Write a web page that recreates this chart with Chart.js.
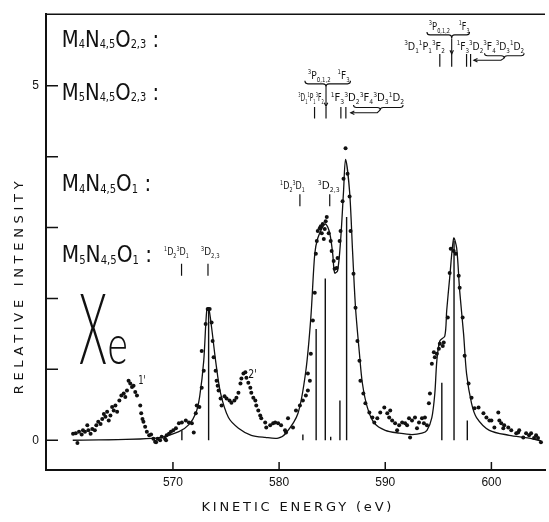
<!DOCTYPE html>
<html>
<head>
<meta charset="utf-8">
<script src="https://cdn.jsdelivr.net/npm/chart.js@4/dist/chart.umd.min.js"></script>
<style>
  html, body { margin: 0; padding: 0; background: #fff; }
  canvas { display: block; }
</style>
</head>
<body>
<canvas id="xeChart" width="549" height="522"></canvas>
<script>
// axis ticks
const xTicks = [570, 580, 590, 600];
const yTicks = [0, 1, 2, 3, 4, 5];
const yTickLabels = ['0', '', '', '', '', '5'];

// measured spectrum (dots), kinetic energy in eV
const pointEnergy = [
  560.59, 561.00, 560.84, 561.15, 561.40, 561.52, 561.71, 561.93, 562.03, 562.24,
  562.40, 562.64, 562.78, 562.96, 563.18, 563.34, 563.49, 563.64, 563.80, 563.95,
  564.11, 564.27, 564.42, 564.58, 564.74, 564.95, 565.14, 565.36, 565.51, 565.67,
  565.82, 565.98, 566.14, 566.29, 566.45, 566.61, 566.92, 567.01, 567.13, 567.22,
  567.38, 567.54, 567.76, 567.94, 568.16, 568.32, 568.41, 568.57, 568.79, 568.94,
  569.25, 569.35, 569.41, 569.63, 569.81, 570.03, 570.28, 570.56, 570.84, 571.21,
  571.50, 571.78, 571.96, 572.15, 572.24, 572.49, 572.71, 572.71, 572.90, 573.08,
  573.27, 573.46, 573.64, 573.74, 573.83, 574.02, 574.11, 574.21, 574.30, 574.49,
  574.58, 574.86, 575.05, 575.33, 575.51, 575.79, 575.98, 576.17, 576.36, 576.45,
  576.64, 576.82, 576.92, 577.10, 577.29, 577.38, 577.57, 577.76, 577.85, 578.04,
  578.22, 578.32, 578.69, 578.79, 579.16, 579.44, 579.63, 579.91, 580.19, 580.56,
  580.65, 580.84, 581.31, 581.59, 581.96, 582.24, 582.52, 582.71, 582.71, 582.90,
  582.99, 583.18, 583.36, 583.46, 583.55, 583.64, 583.83, 583.93, 584.02, 584.11,
  584.21, 584.30, 584.39, 584.49, 584.67, 584.86, 584.95, 585.14, 585.23, 585.42,
  585.51, 585.70, 585.79, 585.98, 586.07, 586.26, 586.45, 586.64, 586.73, 587.01,
  587.20, 587.38, 587.57, 587.66, 587.94, 588.13, 588.50, 588.79, 588.97, 589.25,
  589.53, 589.91, 590.19, 590.37, 590.47, 590.65, 590.93, 591.12, 591.31, 591.59,
  591.87, 592.06, 592.24, 592.34, 592.52, 592.80, 592.99, 593.18, 593.46, 593.64,
  593.74, 593.93, 594.11, 594.21, 594.39, 594.58, 594.67, 594.86, 595.05, 595.14,
  595.42, 595.51, 595.89, 596.07, 596.17, 596.45, 596.64, 596.92, 597.01, 597.29,
  597.48, 597.85, 598.13, 598.41, 598.79, 599.25, 599.53, 599.81, 600.00, 600.28,
  600.65, 600.75, 600.93, 601.12, 601.21, 601.59, 601.87, 602.34, 602.52, 602.62,
  603.00, 603.27, 603.55, 603.74, 604.02, 604.21, 604.39, 604.67
];
const pointIntensity = [
  0.09, -0.04, 0.10, 0.12, 0.08, 0.14, 0.12, 0.21, 0.14, 0.09,
  0.16, 0.14, 0.21, 0.26, 0.23, 0.30, 0.37, 0.33, 0.40, 0.28,
  0.35, 0.47, 0.42, 0.49, 0.40, 0.56, 0.63, 0.66, 0.61, 0.70,
  0.84, 0.80, 0.75, 0.77, 0.68, 0.63, 0.49, 0.38, 0.30, 0.26,
  0.19, 0.12, 0.07, 0.08, 0.02, -0.02, -0.03, 0.02, 0.00, 0.05,
  0.02, 0.00, 0.07, 0.09, 0.12, 0.14, 0.17, 0.24, 0.25, 0.28,
  0.25, 0.24, 0.11, 0.38, 0.49, 0.47, 0.74, 1.26, 0.98, 1.64,
  1.85, 1.85, 1.66, 1.40, 1.17, 0.98, 0.84, 0.77, 0.70, 0.59,
  0.49, 0.62, 0.59, 0.56, 0.53, 0.56, 0.60, 0.67, 0.80, 0.87,
  0.94, 0.96, 0.88, 0.81, 0.74, 0.67, 0.60, 0.56, 0.49, 0.42,
  0.35, 0.31, 0.25, 0.18, 0.21, 0.24, 0.25, 0.24, 0.21, 0.14,
  0.11, 0.31, 0.18, 0.42, 0.49, 0.56, 0.63, 0.70, 0.94, 0.84,
  1.22, 1.69, 2.08, 2.63, 2.81, 2.95, 2.99, 3.02, 2.92, 3.05,
  2.84, 2.98, 3.09, 3.15, 2.92, 2.81, 2.67, 2.53, 2.42, 2.43,
  2.57, 2.81, 2.95, 3.37, 3.69, 4.12, 3.76, 3.44, 2.95, 2.35,
  1.87, 1.40, 1.12, 0.84, 0.66, 0.52, 0.39, 0.32, 0.25, 0.31,
  0.39, 0.46, 0.38, 0.32, 0.42, 0.28, 0.24, 0.14, 0.21, 0.25,
  0.24, 0.21, 0.31, 0.04, 0.28, 0.32, 0.17, 0.25, 0.31, 0.24,
  0.32, 0.21, 0.52, 0.66, 1.08, 1.24, 1.17, 1.22, 1.29, 1.36,
  1.33, 1.38, 1.73, 2.36, 2.70, 2.67, 2.63, 2.32, 2.15, 1.73,
  1.19, 0.80, 0.60, 0.45, 0.46, 0.38, 0.32, 0.28, 0.28, 0.18,
  0.39, 0.28, 0.24, 0.17, 0.21, 0.18, 0.14, 0.10, 0.11, 0.14,
  0.04, 0.10, 0.07, 0.10, 0.03, 0.07, 0.03, -0.03
];

// fitted curve (solid line)
const curveEnergy = [
  560.56, 568.41, 570.56, 571.50, 572.15, 572.52, 572.90, 573.18, 573.36, 573.64,
  574.02, 574.49, 575.23, 576.17, 577.38, 578.69, 579.91, 580.65, 581.78, 582.52,
  582.99, 583.36, 583.64, 584.11, 584.39, 584.77, 585.05, 585.23, 585.51, 585.79,
  586.07, 586.26, 586.64, 586.92, 587.20, 587.57, 587.85, 588.32, 588.97, 590.00,
  591.31, 592.52, 593.46, 593.93, 594.39, 594.67, 594.86, 595.14, 595.61, 595.79,
  596.07, 596.45, 596.73, 597.01, 597.38, 597.66, 598.13, 598.60, 599.81, 601.68,
  603.55, 604.67
];
const curveIntensity = [
  0.00, 0.03, 0.12, 0.22, 0.38, 0.62, 1.12, 1.83, 1.87, 1.59,
  1.12, 0.66, 0.32, 0.17, 0.07, 0.04, 0.03, 0.10, 0.38, 0.98,
  1.73, 2.63, 2.85, 3.01, 3.05, 2.92, 2.63, 2.36, 2.39, 2.81,
  3.51, 3.96, 3.51, 2.67, 1.87, 1.22, 0.80, 0.46, 0.24, 0.14,
  0.10, 0.08, 0.10, 0.14, 0.32, 0.66, 1.12, 1.40, 1.47, 1.83,
  2.29, 2.85, 2.71, 2.11, 1.50, 0.94, 0.52, 0.32, 0.14, 0.07,
  0.03, -0.01
];

// calculated line positions and intensities (vertical sticks)
const stickEnergy = [570.84, 573.36, 582.24, 583.49, 584.35, 584.86, 585.73, 586.36, 595.33, 596.48, 597.73];
const stickHeight = [0.14, 1.87, 0.08, 1.57, 2.28, 0.05, 0.56, 3.15, 0.81, 2.81, 0.28];

// term positions marked under each label row
const m5o1Terms = [570.81, 573.30];
const m4o1Terms = [581.96, 584.77];
const m5o23Terms = [583.34, 584.42, 585.82, 586.29];
const m4o23Terms = [595.14, 596.26, 597.66, 598.04];

const ink = '#111';
const textFont = "'DejaVu Sans Condensed', 'DejaVu Sans', sans-serif";
const axisFont = "'DejaVu Sans', sans-serif";

function pairs(xs, ys) {
  return xs.map((v, i) => ({ x: v, y: ys[i] }));
}

function sticks(xs, ys) {
  return xs.flatMap((v, i) => [{ x: v, y: 0 }, { x: v, y: ys[i] }, { x: v, y: null }]);
}

function termMarks(xs, lo, hi) {
  return xs.flatMap(v => [{ x: v, y: lo }, { x: v, y: hi }, { x: v, y: null }]);
}

function parseRich(str) {
  const out = [];
  const re = /([_^])\{([^}]*)\}|([^_^]+)/g;
  let m;
  while ((m = re.exec(str)) !== null) {
    if (m[3] !== undefined) out.push({ s: m[3], k: 'n' });
    else out.push({ s: m[2], k: m[1] === '_' ? 'sub' : 'sup' });
  }
  return out;
}

// text with sub/superscripts squeezed into [left, right]
function drawRich(ctx, str, left, right, base, size, subDy, small) {
  const parts = parseRich(str);
  const sm = size * small;
  let w = 0;
  parts.forEach(p => {
    ctx.font = (p.k === 'n' ? size : sm) + 'px ' + textFont;
    p.w = ctx.measureText(p.s).width;
    w += p.w;
  });
  ctx.save();
  ctx.translate(left, base);
  ctx.scale((right - left) / w, 1);
  ctx.textAlign = 'left';
  ctx.textBaseline = 'alphabetic';
  let cx = 0;
  parts.forEach(p => {
    ctx.font = (p.k === 'n' ? size : sm) + 'px ' + textFont;
    const dy = p.k === 'sub' ? size * subDy : (p.k === 'sup' ? -size * 0.42 : 0);
    ctx.fillText(p.s, cx, dy);
    cx += p.w;
  });
  ctx.restore();
}

// glyph stretched into a box
function fitBox(ctx, text, font, x0, x1, top, bottom) {
  ctx.save();
  ctx.font = font;
  const m = ctx.measureText(text);
  const w = m.actualBoundingBoxLeft + m.actualBoundingBoxRight;
  const h = m.actualBoundingBoxAscent + m.actualBoundingBoxDescent;
  ctx.translate(x0, top);
  ctx.scale((x1 - x0) / w, (bottom - top) / h);
  ctx.textAlign = 'left';
  ctx.textBaseline = 'alphabetic';
  ctx.fillText(text, m.actualBoundingBoxLeft, m.actualBoundingBoxAscent);
  ctx.restore();
}

function spacedText(ctx, str, cx, cy, width, size, rotate) {
  ctx.save();
  ctx.font = size + 'px ' + axisFont;
  const w = ctx.measureText(str).width;
  const sp = (width - w) / (str.length - 1);
  ctx.translate(cx, cy);
  if (rotate) ctx.rotate(-Math.PI / 2);
  ctx.letterSpacing = sp.toFixed(2) + 'px';
  ctx.textAlign = 'left';
  ctx.textBaseline = 'middle';
  ctx.fillText(str, -width / 2, 0);
  ctx.restore();
}

function underBrace(ctx, x1, x2, tip, top, h) {
  const mid = top + h / 2;
  const r = 3;
  ctx.beginPath();
  ctx.moveTo(x1, top);
  ctx.quadraticCurveTo(x1, mid, x1 + r, mid);
  ctx.lineTo(tip - r, mid);
  ctx.quadraticCurveTo(tip, mid, tip, top + h);
  ctx.quadraticCurveTo(tip, mid, tip + r, mid);
  ctx.lineTo(x2 - r, mid);
  ctx.quadraticCurveTo(x2, mid, x2, top);
  ctx.stroke();
}

function arrow(ctx, pts) {
  ctx.beginPath();
  ctx.moveTo(pts[0][0], pts[0][1]);
  for (let i = 1; i < pts.length; i++) ctx.lineTo(pts[i][0], pts[i][1]);
  ctx.stroke();
  const [xa, ya] = pts[pts.length - 2];
  const [xb, yb] = pts[pts.length - 1];
  const ang = Math.atan2(yb - ya, xb - xa);
  const s = 4;
  ctx.beginPath();
  ctx.moveTo(xb - s * Math.cos(ang - 0.45), yb - s * Math.sin(ang - 0.45));
  ctx.lineTo(xb, yb);
  ctx.lineTo(xb - s * Math.cos(ang + 0.45), yb - s * Math.sin(ang + 0.45));
  ctx.stroke();
}

const decor = {
  id: 'decor',
  beforeDraw(chart) {
    const ctx = chart.ctx;
    ctx.save();
    ctx.fillStyle = '#fff';
    ctx.fillRect(0, 0, chart.width, chart.height);
    ctx.restore();
  },
  afterDraw(chart) {
    const { ctx, chartArea: a, scales: { x, y } } = chart;
    const X = v => x.getPixelForValue(v);
    const Y = v => y.getPixelForValue(v);
    ctx.save();
    ctx.strokeStyle = ink;
    ctx.fillStyle = ink;
    ctx.lineCap = 'butt';

    // frame top and inward ticks
    ctx.lineWidth = 1.5;
    ctx.beginPath();
    ctx.moveTo(a.left, a.top);
    ctx.lineTo(a.right, a.top);
    xTicks.forEach(v => { ctx.moveTo(X(v), a.bottom); ctx.lineTo(X(v), a.bottom - 8); });
    yTicks.forEach(v => { ctx.moveTo(a.left, Y(v)); ctx.lineTo(a.left + 12, Y(v)); });
    ctx.stroke();

    // axis titles
    spacedText(ctx, 'KINETIC ENERGY (eV)', (a.left + a.right) / 2 + 1, a.bottom + 38, 190, 13, false);
    spacedText(ctx, 'RELATIVE INTENSITY', 20, Y(2.15), 213, 13, true);

    // transition labels on the left
    const big = [
      ['M_{4}N_{4,5}O_{2,3} :', 568.69, 5.55],
      ['M_{5}N_{4,5}O_{2,3} :', 568.69, 4.80],
      ['M_{4}N_{4,5}O_{1} :', 567.94, 3.51],
      ['M_{5}N_{4,5}O_{1} :', 568.04, 2.51]
    ];
    big.forEach(([t, x1, yb]) => drawRich(ctx, t, X(559.53), X(x1), Y(yb), 23, 0.06, 0.5));

    // element symbol
    fitBox(ctx, 'X', "300 60px Lato", X(561.21), X(563.74), Y(2.06), Y(1.08));
    fitBox(ctx, 'e', "300 60px Lato", X(564.02), X(565.61), Y(1.47), Y(1.08));

    // satellite labels
    drawRich(ctx, "1'", X(566.73), X(567.45), Y(0.79), 12, 0.25, 0.6);
    drawRich(ctx, "2'", X(577.10), X(577.90), Y(0.88), 12, 0.25, 0.6);

    // term labels
    const terms = [
      ['^{1}D_{2}^{3}D_{1}', 569.16, 571.50, 2.61],
      ['^{3}D_{2,3}', 572.62, 574.40, 2.61],
      ['^{1}D_{2}^{3}D_{1}', 580.09, 582.43, 3.54],
      ['^{3}D_{2,3}', 583.64, 585.70, 3.54],
      ['^{3}P_{0,1,2}', 582.71, 584.86, 5.10],
      ['^{1}F_{3}', 585.51, 586.64, 5.10],
      ['^{3}D_{1}^{1}P_{1}^{3}F_{2}', 581.80, 584.20, 4.78],
      ['^{1}F_{3}^{3}D_{2}^{3}F_{4}^{3}D_{3}^{1}D_{2}', 584.86, 591.78, 4.78],
      ['^{3}P_{0,1,2}', 594.11, 596.10, 5.79],
      ['^{1}F_{3}', 596.92, 597.94, 5.79],
      ['^{3}D_{1}^{1}P_{1}^{3}F_{2}', 591.78, 595.61, 5.51],
      ['^{1}F_{3}^{3}D_{2}^{3}F_{4}^{3}D_{3}^{1}D_{2}', 596.73, 603.08, 5.51]
    ];
    terms.forEach(([t, x0, x1, yb]) => drawRich(ctx, t, X(x0), X(x1), Y(yb), 11, 0.28, 0.6));

    // braces and arrows
    ctx.lineWidth = 1.1;
    underBrace(ctx, X(582.43), X(586.73), X(584.42), Y(5.07), 6);
    underBrace(ctx, X(593.93), X(597.94), X(596.26), Y(5.76), 6);
    underBrace(ctx, X(587.01), X(591.68), X(589.53), Y(4.73), 5);
    underBrace(ctx, X(599.35), X(603.08), X(601.21), Y(5.46), 5);
    arrow(ctx, [[X(584.42), Y(4.99)], [X(584.42), Y(4.71)]]);
    arrow(ctx, [[X(596.26), Y(5.67)], [X(596.26), Y(5.45)]]);
    arrow(ctx, [[X(589.53), Y(4.66)], [X(589.25), Y(4.62)], [X(586.75), Y(4.62)]]);
    arrow(ctx, [[X(601.21), Y(5.39)], [X(600.90), Y(5.36)], [X(598.35), Y(5.36)]]);
    ctx.restore();
  }
};

const ctx = document.getElementById('xeChart').getContext('2d');
new Chart(ctx, {
  type: 'scatter',
  data: {
    datasets: [
      {
        label: 'Experiment',
        data: pairs(pointEnergy, pointIntensity),
        pointRadius: 2,
        pointBackgroundColor: ink,
        pointBorderWidth: 0,
        showLine: false
      },
      {
        label: 'Fit',
        type: 'line',
        data: pairs(curveEnergy, curveIntensity),
        borderColor: ink,
        borderWidth: 1.3,
        pointRadius: 0,
        tension: 0.3,
        fill: false
      },
      {
        label: 'Lines',
        type: 'line',
        data: sticks(stickEnergy, stickHeight),
        borderColor: ink,
        borderWidth: 1.4,
        pointRadius: 0,
        tension: 0,
        spanGaps: false,
        fill: false
      },
      {
        label: 'Terms',
        type: 'line',
        data: [
          ...termMarks(m5o1Terms, 2.32, 2.49),
          ...termMarks(m4o1Terms, 3.30, 3.47),
          ...termMarks(m5o23Terms, 4.54, 4.70),
          ...termMarks(m4o23Terms, 5.27, 5.45)
        ],
        borderColor: ink,
        borderWidth: 1.2,
        pointRadius: 0,
        tension: 0,
        spanGaps: false,
        fill: false
      }
    ]
  },
  options: {
    responsive: false,
    animation: false,
    layout: { padding: { top: 12, right: 0, left: 0, bottom: 0 } },
    plugins: {
      legend: { display: false },
      tooltip: { enabled: false }
    },
    scales: {
      x: {
        type: 'linear',
        min: 558.04,
        max: 605.05,
        afterBuildTicks: s => { s.ticks = xTicks.map(v => ({ value: v })); },
        afterFit: s => { s.height = 52; },
        ticks: {
          color: ink,
          font: { family: "'Liberation Sans', sans-serif", size: 12 },
          padding: 5,
          maxRotation: 0,
          callback: v => String(v)
        },
        grid: { drawOnChartArea: false, drawTicks: false },
        border: { color: ink, width: 2 }
      },
      y: {
        min: -0.42,
        max: 6.01,
        afterBuildTicks: s => { s.ticks = yTicks.map(v => ({ value: v })); },
        afterFit: s => { s.width = 46; },
        ticks: {
          color: ink,
          font: { family: "'Liberation Sans', sans-serif", size: 12 },
          padding: 7,
          callback: v => yTickLabels[yTicks.indexOf(v)] || ''
        },
        grid: { drawOnChartArea: false, drawTicks: false },
        border: { color: ink, width: 2 }
      }
    }
  },
  plugins: [decor]
});
</script>
</body>
</html>
